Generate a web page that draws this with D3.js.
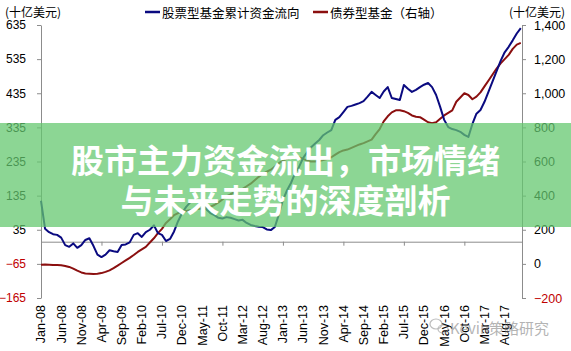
<!DOCTYPE html>
<html><head><meta charset="utf-8">
<script src="https://cdn.jsdelivr.net/npm/d3@7/dist/d3.min.js"></script>
<style>
html,body{margin:0;padding:0;background:#fff;}
svg{display:block;}
</style></head>
<body>
<svg id="c" width="571" height="351"></svg>
<script>
// ---- data (monthly, Jan-2008 = index 0) ----
const tickLabels = ["Jan-08","Jun-08","Nov-08","Apr-09","Sep-09","Feb-10","Jul-10","Dec-10","May-11","Oct-11","Mar-12","Aug-12","Jan-13","Jun-13","Nov-13","Apr-14","Sep-14","Feb-15","Jul-15","Dec-15","May-16","Oct-16","Mar-17","Aug-17"];
const leftTicks = [-165,-65,35,135,235,335,435,535,635];
const rightTicks = [-200,0,200,400,600,800,1000,1200,1400];
const seriesNames = ["股票型基金累计资金流向","债券型基金（右轴）"];
// equity funds cumulative flows (left axis, bn USD)
const equityFlows = [120,38,28,22,20,12,-10,-15,-5,-18,
 -10,5,10,-12,-38,-45,-38,-25,-28,-30,
 -10,-8,-2,20,25,14,28,35,48,25,
 20,2,8,30,60,84,102,115,122,115,
 108,95,84,78,70,68,72,70,66,62,
 64,55,49,46,44,43,36,34,43,80,
 122,150,172,200,219,245,262,277,288,298,
 312,320,327,357,365,380,395,398,402,406,
 412,425,439,430,421,440,453,421,418,415,
 459,448,439,445,453,460,465,453,430,395,
 357,336,330,327,322,313,307,345,375,386,
 410,440,470,500,530,555,571,590,610,626];
// bond funds (right axis, bn USD)
const bondFunds = [-5,-4,-5,-6,-6,-8,-12,-18,-28,-40,
 -50,-56,-58,-60,-58,-54,-47,-38,-25,-10,
 5,20,35,52,70,85,100,125,150,180,
 205,240,262,285,298,305,310,315,318,322,
 325,330,335,345,360,378,395,408,420,430,
 440,455,470,490,510,528,540,552,570,590,
 605,615,622,628,626,615,605,600,600,603,
 608,615,625,640,655,665,670,680,690,700,
 708,718,728,760,790,835,865,888,900,900,
 895,885,870,862,860,845,830,825,830,850,
 870,885,900,950,975,1000,990,965,980,1005,
 1040,1075,1110,1145,1175,1200,1225,1260,1285,1295];
const titleLines = ["股市主力资金流出，市场情绪","与未来走势的深度剖析"];

const svg = d3.select("#c");
const W = 571, H = 351;
svg.append("rect").attr("width",W).attr("height",H).attr("fill","#fff");

const x = d3.scaleLinear().domain([0,119.3]).range([41,522]);
const yL = d3.scaleLinear().domain([-165,635]).range([298,25]);
const yR = d3.scaleLinear().domain([-200,1400]).range([298,25]);
const axisColor = "#8c8c8c";
const numFont = "'Liberation Sans', Arial, sans-serif";
const cjkFont = "'Noto Sans CJK SC', sans-serif";

// left axis
const gL = svg.append("g").attr("transform","translate(41,0)")
  .call(d3.axisLeft(yL).tickValues(leftTicks).tickSize(4).tickSizeOuter(0).tickPadding(11).tickFormat(d3.format("d")));
gL.selectAll("path,line").attr("stroke",axisColor);
gL.selectAll("text").attr("font-family",numFont).attr("font-size","12px")
  .attr("fill",d=>d<0?"#c00000":"#000");

// right axis
const gR = svg.append("g").attr("transform","translate(522,0)")
  .call(d3.axisRight(yR).tickValues(rightTicks).tickSize(4).tickSizeOuter(0).tickPadding(8).tickFormat(d3.format(",")));
gR.selectAll("path,line").attr("stroke",axisColor);
gR.selectAll("text").attr("font-family",numFont).attr("font-size","12.5px")
  .attr("fill",d=>d<0?"#c00000":"#000");

// zero line with ticks
const gZ = svg.append("g").attr("transform",`translate(0,${yL(0)})`)
  .call(d3.axisBottom(x).tickValues(d3.range(0,119,15)).tickSize(4).tickSizeOuter(0).tickFormat(""));
gZ.selectAll("path,line").attr("stroke",axisColor);

// x labels (rotated)
svg.append("g").selectAll("text").data(tickLabels).join("text")
  .attr("transform",(d,i)=>`translate(${x(i*5)},305) rotate(-90)`)
  .attr("text-anchor","end").attr("dy","0.35em")
  .attr("font-family",numFont).attr("font-size","12.5px").attr("fill","#000")
  .text(d=>d);

// lines
const lineL = d3.line().x((d,i)=>x(i)).y(d=>yL(d));
const lineR = d3.line().x((d,i)=>x(i)).y(d=>yR(d));
svg.append("path").datum(bondFunds).attr("d",lineR).attr("fill","none")
  .attr("stroke","#8b0f0f").attr("stroke-width",2).attr("stroke-linejoin","round");
svg.append("path").datum(equityFlows).attr("d",lineL).attr("fill","none")
  .attr("stroke","#0a0a80").attr("stroke-width",2).attr("stroke-linejoin","round");

// unit labels
svg.append("text").attr("x",5).attr("y",11).attr("dominant-baseline","central")
  .attr("font-family",cjkFont).attr("font-size","12px").text("(十亿美元)");
svg.append("text").attr("x",565).attr("y",11).attr("text-anchor","end").attr("dominant-baseline","central")
  .attr("font-family",cjkFont).attr("font-size","12px").text("(十亿美元)");

// legend
const legColors = ["#0a0a80","#8b0f0f"];
const legX = [145,313];
seriesNames.forEach((n,i)=>{
  svg.append("line").attr("x1",legX[i]).attr("x2",legX[i]+15).attr("y1",12).attr("y2",12)
    .attr("stroke",legColors[i]).attr("stroke-width",2.5);
  svg.append("text").attr("x",legX[i]+17).attr("y",12).attr("dominant-baseline","central")
    .attr("font-family",cjkFont).attr("font-size","12.5px").attr("fill","#000").text(n);
});

// banner overlay
svg.append("rect").attr("x",0).attr("y",123).attr("width",W).attr("height",104)
  .attr("fill","rgba(100,200,110,0.74)");
svg.append("g").selectAll("text").data(titleLines).join("text")
  .attr("x",285.5).attr("y",(d,i)=>158.5+i*40).attr("text-anchor","middle").attr("dominant-baseline","central")
  .attr("font-family",cjkFont).attr("font-weight","bold").attr("font-size","33px").attr("fill","#fff")
  .text(d=>d);

// watermark
const wm = svg.append("g").attr("opacity",0.55);
wm.append("ellipse").attr("cx",436).attr("cy",324).attr("rx",6).attr("ry",5).attr("fill","none").attr("stroke","#888").attr("stroke-width",1.2);
wm.append("ellipse").attr("cx",443).attr("cy",329).attr("rx",5).attr("ry",4).attr("fill","none").attr("stroke","#888").attr("stroke-width",1.2);
wm.append("text").attr("x",450).attr("y",327).attr("dominant-baseline","central")
  .attr("font-family",cjkFont).attr("font-size","15px").attr("fill","#777").text("Kevin策略研究");
</script>
</body></html>
